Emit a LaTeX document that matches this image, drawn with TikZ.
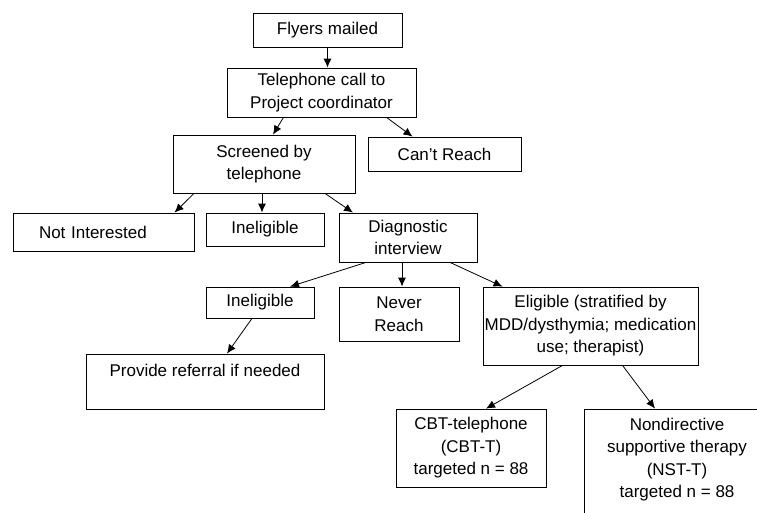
\documentclass[tikz,border=0pt]{standalone}
\usepackage{fontspec}
\setmainfont{Liberation Sans}
\usetikzlibrary{arrows.meta}

\tikzset{
  box/.style={draw, line width=0.8pt, align=center, inner sep=1pt, font=\fontsize{17}{22.5}\selectfont},
  arr/.style={line width=0.8pt, -{Latex[length=9pt,width=8pt]}}
}

\begin{document}
\begin{tikzpicture}[x=1pt, y=-1pt]
        \useasboundingbox (0,0) rectangle (757,512);
        \clip (0,0) rectangle (757,512);
        \node[box, minimum width=149, minimum height=34](fly) at (327.5,30) {Flyers mailed};
        \node[box, minimum width=189, minimum height=49](tel) at (321.5,92.5) {Telephone call to\\Project coordinator};
        \node[box, minimum width=182, minimum height=58](scr) at (264,164) {Screened by\\telephone};
        \node[box, minimum width=153, minimum height=34](cant) at (444.5,154) {Can't Reach};
        \node[box, text width=129, align=left, inner xsep=26, minimum height=38](noti) at (103.5,232) {Not Interested};
        \node[box, minimum width=118, minimum height=33](inel1) at (265,229.5) {Ineligible};
        \node[box, minimum width=138, minimum height=49](diag) at (408,237.5) {Diagnostic\\interview};
        \node[box, minimum width=108, minimum height=31](inel2) at (260,302.5) {Ineligible};
        \node[box, minimum width=120, minimum height=54](never) at (399,314) {Never\\Reach};
        \node[box, minimum width=215, minimum height=78](elig) at (590.5,326) {Eligible (stratified by\\MDD/dysthymia; medication\\use; therapist)};
        \node[box, minimum width=238, minimum height=55](refer) at (205,381.5) {Provide referral if needed\\ \mbox{}};
        \node[box, minimum width=150, minimum height=78](cbt) at (471,448) {CBT-telephone\\(CBT-T)\\targeted n = 88};
        \node[box, minimum width=186, minimum height=120](nst) at (677,469) {Nondirective\\supportive therapy\\(NST-T)\\targeted n = 88\\ \mbox{}};
        \draw[arr](fly.south)--(fly.south |- tel.north);
        \draw[arr]([xshift=-38]tel.south)--([xshift=9]scr.north);
        \draw[arr]([xshift=65]tel.south)--([xshift=-32]cant.north);
        \draw[arr]([xshift=-70]scr.south)--([xshift=71]noti.north);
        \draw[arr]([xshift=-2]scr.south)--([xshift=-3]inel1.north);
        \draw[arr]([xshift=61]scr.south)--([xshift=-55]diag.north);
        \draw[arr]([xshift=-42]diag.south)--([xshift=30]inel2.north);
        \draw[arr]([xshift=-6]diag.south)--([xshift=3]never.north);
        \draw[arr]([xshift=42]diag.south)--([xshift=-88]elig.north);
        \draw[arr]([xshift=-8]inel2.south)--([xshift=22]refer.north);
        \draw[arr]([xshift=-28]elig.south)--([xshift=15]cbt.north);
        \draw[arr]([xshift=32]elig.south)--([xshift=-22]nst.north);
\end{tikzpicture}
\end{document}
